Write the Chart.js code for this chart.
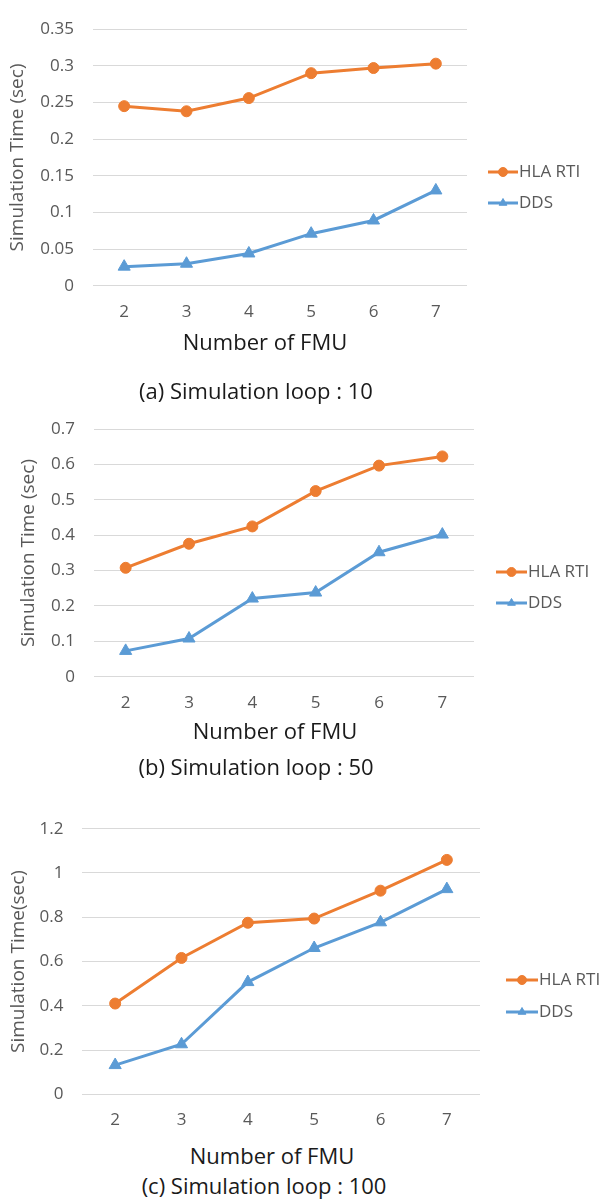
<!DOCTYPE html>
<html>
<head>
<meta charset="utf-8">
<title>Simulation time: HLA RTI vs DDS</title>
<script src="https://cdn.jsdelivr.net/npm/chart.js@4.4.1/dist/chart.umd.min.js"></script>
<style>
  body { margin: 0; background: #fff; width: 603px; height: 1199px; position: relative; overflow: hidden; font-family: "Open Sans", sans-serif; }
  canvas { position: absolute; left: 0; }
  .label { position: absolute; transform: translate(-50%, -50%); white-space: nowrap; line-height: 1; color: #1a1a1a; font-size: 22px; }
</style>
</head>
<body>
<canvas id="chartLoop10" width="603" height="330" style="top:0px"></canvas>
<canvas id="chartLoop50" width="603" height="330" style="top:400px"></canvas>
<canvas id="chartLoop100" width="603" height="340" style="top:800px"></canvas>

<div class="label" style="left:265px; top:341px">Number of FMU</div>
<div class="label" style="left:256px; top:390px">(a) Simulation loop : 10</div>
<div class="label" style="left:275px; top:730px">Number of FMU</div>
<div class="label" style="left:256px; top:766px">(b) Simulation loop : 50</div>
<div class="label" style="left:272px; top:1155px">Number of FMU</div>
<div class="label" style="left:264px; top:1185px">(c) Simulation loop : 100</div>

<script>
'use strict';

//Categories on the x axis (number of FMUs)
const fmuCounts = ['2', '3', '4', '5', '6', '7'];

//Simulation loop : 10
const hlaLoop10 = [0.245, 0.238, 0.256, 0.290, 0.297, 0.303];
const ddsLoop10 = [0.026, 0.030, 0.044, 0.071, 0.089, 0.130];
const yTicksLoop10 = [0, 0.05, 0.1, 0.15, 0.2, 0.25, 0.3, 0.35];

//Simulation loop : 50
const hlaLoop50 = [0.308, 0.376, 0.425, 0.525, 0.597, 0.623];
const ddsLoop50 = [0.073, 0.108, 0.221, 0.238, 0.352, 0.402];
const yTicksLoop50 = [0, 0.1, 0.2, 0.3, 0.4, 0.5, 0.6, 0.7];

//Simulation loop : 100
const hlaLoop100 = [0.410, 0.616, 0.775, 0.794, 0.920, 1.059];
const ddsLoop100 = [0.132, 0.226, 0.507, 0.661, 0.777, 0.927];
const yTicksLoop100 = [0, 0.2, 0.4, 0.6, 0.8, 1, 1.2];

const seriesNames = ['HLA RTI', 'DDS'];
const orange = '#ED7D31';
const blue = '#5B9BD5';
const greyText = '#595959';
const fontFamily = '"Open Sans", sans-serif';

//Legend on the right side, drawn like the Excel one (line with marker through it)
const sideLegend = {
  id: 'sideLegend',
  afterDraw(chart, args, opts) {
    const ctx = chart.ctx;
    ctx.save();
    chart.data.datasets.forEach(function(ds, i) {
      const y = opts.y[i];
      ctx.strokeStyle = ds.borderColor;
      ctx.lineWidth = 3;
      ctx.beginPath();
      ctx.moveTo(opts.x, y);
      ctx.lineTo(opts.x + opts.lineLength, y);
      ctx.stroke();
      ctx.fillStyle = ds.backgroundColor;
      ctx.lineWidth = 1;
      Chart.helpers.drawPoint(ctx, { pointStyle: ds.pointStyle, radius: 4.5, rotation: 0, borderWidth: 1 }, opts.x + opts.lineLength / 2, y);
      ctx.fillStyle = greyText;
      ctx.font = '17px ' + fontFamily;
      ctx.textBaseline = 'middle';
      ctx.textAlign = 'left';
      ctx.fillText(ds.label, opts.x + opts.lineLength + 1, y);
    });
    ctx.restore();
  }
};

function buildDataset(name, values, color, style, radius) {
  return {
    label: name,
    data: values,
    borderColor: color,
    backgroundColor: color,
    borderWidth: 3,
    pointStyle: style,
    pointRadius: radius,
    pointBorderWidth: 1,
    pointBackgroundColor: color,
    pointBorderColor: color,
    tension: 0
  };
}

//area = where the plot area sits inside its canvas
function makeChart(canvasId, hlaValues, ddsValues, yTicks, yTitle, area, legendPos) {
  const canvas = document.getElementById(canvasId);
  return new Chart(canvas.getContext('2d'), {
    type: 'line',
    data: {
      labels: fmuCounts,
      datasets: [
        buildDataset(seriesNames[0], hlaValues, orange, 'circle', 5.5),
        buildDataset(seriesNames[1], ddsValues, blue, 'triangle', 7)
      ]
    },
    plugins: [sideLegend],
    options: {
      responsive: false,
      animation: false,
      devicePixelRatio: 1,
      layout: {
        padding: { left: 0, top: area.top, right: canvas.width - area.right, bottom: 0 }
      },
      plugins: {
        legend: { display: false },
        tooltip: { enabled: false },
        sideLegend: legendPos
      },
      scales: {
        x: {
          offset: true,
          grid: { display: false, drawTicks: false },
          border: { display: false },
          ticks: { color: greyText, padding: 16, font: { family: fontFamily, size: 17 } },
          afterFit: function(scale) { scale.height = canvas.height - area.bottom; }
        },
        y: {
          min: yTicks[0],
          max: yTicks[yTicks.length - 1],
          grid: { color: '#d9d9d9', lineWidth: 1, drawTicks: false },
          border: { display: false },
          ticks: {
            color: greyText,
            padding: area.left - area.tickRight,
            font: { family: fontFamily, size: 17 },
            callback: function(value) { return String(value); }
          },
          afterBuildTicks: function(scale) {
            scale.ticks = yTicks.map(function(v) { return { value: v }; });
          },
          title: {
            display: true,
            text: yTitle,
            color: greyText,
            font: { family: fontFamily, size: 19 },
            padding: { top: area.titleX - 11.4, bottom: 0 }
          },
          afterFit: function(scale) { scale.width = area.left; }
        }
      }
    }
  });
}

makeChart('chartLoop10', hlaLoop10, ddsLoop10, yTicksLoop10, 'Simulation Time (sec)',
  { left: 93, right: 467, top: 17.5, bottom: 285.7, tickRight: 74, titleX: 18 },
  { x: 488, y: [172, 203], lineLength: 30 });

makeChart('chartLoop50', hlaLoop50, ddsLoop50, yTicksLoop50, 'Simulation Time (sec)',
  { left: 94, right: 474, top: 28.3, bottom: 276.7, tickRight: 75, titleX: 29 },
  { x: 496, y: [172, 203], lineLength: 31 });

makeChart('chartLoop100', hlaLoop100, ddsLoop100, yTicksLoop100, 'Simulation Time(sec)',
  { left: 82, right: 480, top: 18.3, bottom: 294.3, tickRight: 63.5, titleX: 19 },
  { x: 506, y: [180, 212], lineLength: 32 });
</script>
</body>
</html>
